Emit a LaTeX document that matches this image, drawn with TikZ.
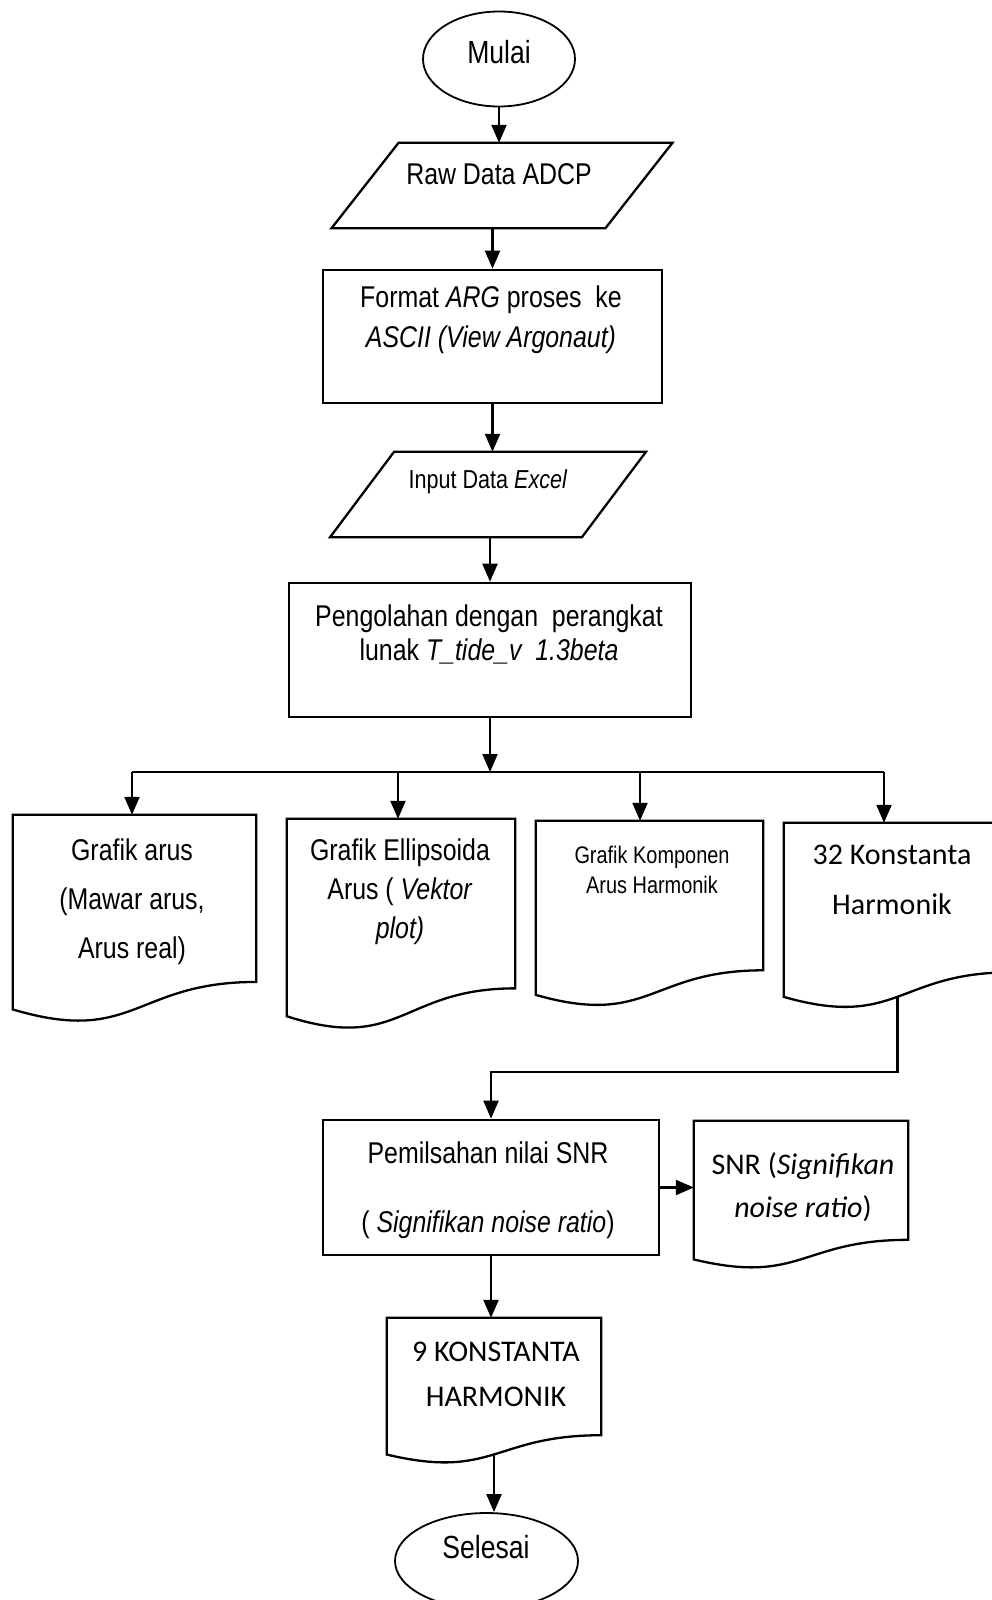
\documentclass[tikz,border=0pt]{standalone}
\usepackage{fontspec}
\setmainfont{Liberation Sans}
\newfontfamily\nf{Liberation Sans}[FakeStretch=0.83]
\newfontfamily\cf{Carlito}
\usetikzlibrary{shapes.geometric,arrows.meta,calc}
\newcommand\mydoc[1]{\draw[shapeline] (#1.north west) -- (#1.north east) -- ($(#1.north east)!0.802!(#1.south east)$) .. controls ($(#1.north)!0.802!(#1.south)$) and ($(#1.north)!1.108!(#1.south)$) .. ($(#1.north west)!0.934!(#1.south west)$) -- cycle;}
\newcommand\mypara[2]{\draw[shapeline] ($(#1.north west)+(#2,0)$) -- ($(#1.north east)+(#2,0)$) -- ($(#1.south east)+(-#2,0)$) -- ($(#1.south west)+(-#2,0)$) -- cycle;}
\tikzset{
  frame/.style={rectangle, draw=none, inner sep=0pt},
  shapeline/.style={draw=black, line width=2.3pt, line join=miter},
  boxnode/.style={rectangle, draw=black, line width=2.6pt, inner sep=0pt},
  termnode/.style={ellipse, draw=black, line width=1.8pt, inner sep=0pt},
  conn/.style={draw=black, line width=2.2pt},
  arr/.style={conn, -{Triangle[length=18pt,width=15pt]}},
  txt/.style={inner sep=0pt, align=center, font={\nf\fontsize{30pt}{36pt}\selectfont}},
}
\begin{document}
\begin{tikzpicture}[x=1pt,y=-1pt]
\fill[white] (0,0) rectangle (992,1600);
\useasboundingbox (0,0) rectangle (992,1600);
\begin{scope}
\clip (0,0) rectangle (992,1600);
% terminals
\node[termnode, minimum width=152pt, minimum height=95pt] (mulai) at (499,59) {};
\node[termnode, minimum width=183pt, minimum height=96pt] (sel) at (486.5,1561) {};
% parallelograms
\node[frame, minimum width=273.5pt, minimum height=85pt] (raw) at (502,185.5) {};
\mypara{raw}{33.5}
\node[frame, minimum width=251.5pt, minimum height=85pt] (inp) at (488,494.5) {};
\mypara{inp}{32}
% process boxes
\node[boxnode, minimum width=339pt, minimum height=133pt] (format) at (492.5,336.5) {};
\node[boxnode, minimum width=402pt, minimum height=134pt] (peng) at (490,650) {};
\node[boxnode, minimum width=336pt, minimum height=135pt] (pem) at (491,1187.5) {};
% documents
\node[frame, minimum width=243pt, minimum height=208pt] (d1) at (134.5,919) {};
\node[frame, minimum width=228pt, minimum height=211pt] (d2) at (401,924.5) {};
\node[frame, minimum width=227pt, minimum height=186pt] (d3) at (649.5,914) {};
\node[frame, minimum width=227pt, minimum height=186pt] (d4) at (897.5,916) {};
\node[frame, minimum width=214pt, minimum height=148pt] (snr) at (801,1195) {};
\node[frame, minimum width=214pt, minimum height=146pt] (k9) at (494,1391) {};
\mydoc{d1}\mydoc{d2}\mydoc{d3}\mydoc{d4}\mydoc{snr}\mydoc{k9}
% texts
\node[txt, font={\nf\fontsize{32pt}{38pt}\selectfont}] (tmulai) at (499,52) {Mulai};
\node[txt] (traw) at (499,174) {Raw Data ADCP};
\node[txt, anchor=north, font={\nf\fontsize{30pt}{40pt}\selectfont}] (tformat) at (491,286) {Format \textit{ARG} proses\ \ ke\\\textit{ASCII (View Argonaut)}};
\node[txt, anchor=base, font={\nf\fontsize{26pt}{30pt}\selectfont}] (tinp) at (488,488) {Input Data \textit{Excel}};
\node[txt, anchor=north, font={\nf\fontsize{30pt}{34pt}\selectfont}] (tpeng) at (489,605) {Pengolahan dengan\ \ perangkat\\lunak \textit{T\_tide\_v\ \ 1.3beta}};
\node[txt, anchor=north, font={\nf\fontsize{30pt}{49pt}\selectfont}] (td1) at (132,839) {Grafik arus\\(Mawar arus,\\Arus real)};
\node[txt, anchor=north, font={\nf\fontsize{30pt}{39pt}\selectfont}] (td2) at (400,839) {Grafik Ellipsoida\\Arus ( \textit{Vektor}\\\textit{plot)}};
\node[txt, anchor=north, font={\nf\fontsize{24pt}{30pt}\selectfont}] (td3) at (652,846) {Grafik Komponen\\Arus Harmonik};
\node[txt, anchor=north, font={\cf\fontsize{30pt}{50pt}\selectfont}] (td4) at (892,845) {32 Konstanta\\Harmonik};
\node[txt, anchor=north, font={\nf\fontsize{30pt}{69pt}\selectfont}] (tpem) at (488,1142) {Pemilsahan nilai SNR\\( \textit{Signifikan noise ratio})};
\node[txt, anchor=north, font={\cf\fontsize{30pt}{43pt}\selectfont}] (tsnr) at (803,1152) {SNR (\textit{Signifikan}\\\textit{noise ratio})};
\node[txt, anchor=north, font={\cf\fontsize{30pt}{45pt}\selectfont}] (tk9) at (496,1342) {9 KONSTANTA\\HARMONIK};
\node[txt, font={\nf\fontsize{32pt}{38pt}\selectfont}] (tsel) at (486,1547) {Selesai};
% connectors
\draw[arr] (mulai.south) -- (mulai.south |- raw.north);
\draw[arr] (format.north |- raw.south) -- (format.north);
\draw[arr] (format.south) -- (format.south |- inp.north);
\draw[arr] (peng.north |- inp.south) -- (peng.north);
\coordinate (br) at (490,772);
\coordinate (a1) at (132,772);
\coordinate (a2) at (398,772);
\coordinate (a3) at (640,772);
\coordinate (a4) at (884,772);
\draw[arr] (peng.south) -- (br);
\draw[conn] (a1) -- (a4);
\draw[arr] (a1) -- (a1 |- d1.north);
\draw[arr] (a2) -- (a2 |- d2.north);
\draw[arr] (a3) -- (a3 |- d3.north);
\draw[arr] (a4) -- (a4 |- d4.north);
\coordinate (d4out) at ($(d4.north)!0.933!(d4.south)$);
\coordinate (bend) at (d4out |- 0,1072);
\draw[arr] (d4out) -- (bend) -- (bend -| pem.north) -- (pem.north);
\draw[arr] (pem.east) -- (pem.east -| snr.west);
\draw[arr] (pem.south) -- (pem.south |- k9.north);
\coordinate (k9out) at ($(k9.north)!0.933!(k9.south)$);
\draw[arr] (k9out) -- (k9out |- sel.north);
\end{scope}
\end{tikzpicture}
\end{document}
